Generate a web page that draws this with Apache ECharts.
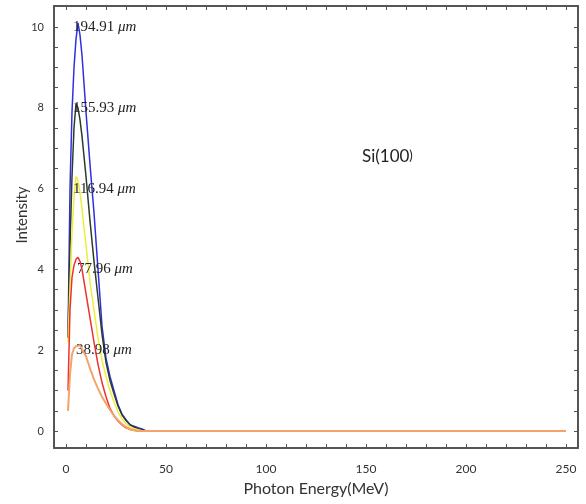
<!DOCTYPE html>
<html>
<head>
<meta charset="utf-8">
<script src="https://cdn.jsdelivr.net/npm/echarts@6/dist/echarts.min.js"></script>
<style>
  html, body { margin: 0; padding: 0; background: #fff; }
  #chart { width: 586px; height: 504px; }
</style>
</head>
<body>
<div id="chart"></div>
<script>
// photon energy (MeV)
const energy = [1, 2, 3, 4, 5, 6, 7, 8, 10, 12, 14, 16, 18, 20, 22, 24, 26, 28, 30, 32, 34, 36, 38, 40, 250]

// crystal thickness for each curve
const thickness = ['194.91', '155.93', '116.94', '77.96', '38.98']

// intensity per thickness
const blue = [2.3, 6.0, 7.9, 9.0, 9.7, 10.1, 9.8, 9.3, 7.9, 6.6, 5.4, 4.0, 2.6, 1.8, 1.35, 1.0, 0.65, 0.42, 0.28, 0.15, 0.12, 0.08, 0.05, 0, 0]
const black = [2.3, 4.6, 6.3, 7.5, 8.1, 8.0, 7.7, 7.3, 6.3, 5.2, 4.2, 3.3, 2.4, 1.7, 1.25, 0.92, 0.62, 0.4, 0.26, 0.16, 0.1, 0.06, 0.03, 0, 0]
const yellow = [2.2, 3.6, 4.9, 5.8, 6.3, 6.2, 5.9, 5.5, 4.6, 3.7, 3.0, 2.3, 1.75, 1.35, 1.0, 0.72, 0.47, 0.3, 0.18, 0.1, 0.06, 0.03, 0.01, 0, 0]
const red = [1.0, 3.0, 3.8, 4.1, 4.25, 4.3, 4.2, 4.0, 3.4, 2.8, 2.2, 1.65, 1.2, 0.85, 0.56, 0.38, 0.25, 0.15, 0.08, 0.04, 0.02, 0, 0, 0, 0]
const orange = [0.5, 1.4, 1.9, 2.05, 2.1, 2.12, 2.12, 2.1, 1.85, 1.55, 1.28, 1.05, 0.85, 0.68, 0.52, 0.38, 0.27, 0.17, 0.1, 0.05, 0.02, 0, 0, 0, 0]

// tick labels
const xTicks = [0, 50, 100, 150, 200, 250]
const yTicks = [0, 2, 4, 6, 8, 10]

const serie = [blue, black, yellow, red, orange]
const colors = ['#3030e0', '#2e3a2e', '#eeee3a', '#ee3030', '#f4a46a']
// where each note sits (energy, intensity)
const noteAt = [[3.5, 10], [3.5, 8], [3.5, 6], [5.5, 4], [5, 2]]

const xMinor = []
for (let v = 0; v <= 250; v += 10) xMinor.push(v)
const yMinor = []
for (let v = 0; v <= 10; v += 0.5) yMinor.push(v)

const chart = echarts.init(document.getElementById('chart'))

const frame = { show: true, lineStyle: { color: '#555', width: 2 } }

const option = {
  animation: false,
  grid: { left: 54, top: 6, right: 8, bottom: 56 },
  xAxis: [
    {
      type: 'value', min: -6, max: 256, position: 'bottom',
      splitLine: { show: false },
      axisLine: { ...frame, onZero: false },
      axisTick: { customValues: xMinor, inside: true, length: 4, lineStyle: { color: '#555' } },
      axisLabel: { customValues: xTicks, margin: 15, fontSize: 12, color: '#333', fontFamily: 'Lato' },
      name: 'Photon Energy(MeV)', nameLocation: 'middle', nameGap: 33,
      nameTextStyle: { fontSize: 16, color: '#333', fontFamily: 'Lato' }
    },
    {
      type: 'value', min: -6, max: 256, position: 'top',
      splitLine: { show: false },
      axisLine: { ...frame, onZero: false },
      axisTick: { customValues: xMinor, inside: true, length: 4, lineStyle: { color: '#555' } },
      axisLabel: { show: false }
    }
  ],
  yAxis: [
    {
      type: 'value', min: -0.42, max: 10.52, position: 'left',
      splitLine: { show: false },
      axisLine: { ...frame, onZero: false },
      axisTick: { customValues: yMinor, inside: true, length: 4, lineStyle: { color: '#555' } },
      axisLabel: { customValues: yTicks, margin: 10, fontSize: 11, color: '#333', fontFamily: 'Lato' }
    },
    {
      type: 'value', min: -0.42, max: 10.52, position: 'right',
      splitLine: { show: false },
      axisLine: { ...frame, onZero: false },
      axisTick: { customValues: yMinor, inside: true, length: 4, lineStyle: { color: '#555' } },
      axisLabel: { show: false }
    }
  ],
  graphic: [
    {
      type: 'text', x: 22, y: 215, rotation: Math.PI / 2,
      style: { text: 'Intensity', font: '15px Lato', fill: '#333', textAlign: 'center', textVerticalAlign: 'middle' }
    }
  ],
  series: serie.map((vals, i) => ({
    type: 'line',
    name: thickness[i],
    data: energy.map((e, j) => [e, vals[j]]),
    symbol: 'none',
    z: 2 + i,
    lineStyle: { color: colors[i], width: i === 4 ? 2 : 1.5 },
    markPoint: {
      symbol: 'circle', symbolSize: 0,
      data: [{ coord: noteAt[i] }],
      label: {
        show: true, position: 'right', distance: 0,
        formatter: () => '{n|' + thickness[i] + ' }{u|μm}',
        rich: {
          n: { fontFamily: 'Liberation Serif', fontSize: 15, color: '#222' },
          u: { fontFamily: 'Liberation Serif', fontSize: 15, fontStyle: 'italic', color: '#222' }
        }
      }
    }
  })).concat([{
    type: 'line', data: [], symbol: 'none',
    markPoint: {
      symbol: 'circle', symbolSize: 0,
      data: [{ coord: [148, 6.8] }],
      label: {
        show: true, position: 'right', distance: 0,
        formatter: '{a|Si(100}{b|)}',
        rich: {
          a: { fontFamily: 'Lato', fontSize: 17, color: '#222' },
          b: { fontFamily: 'Lato', fontSize: 13, color: '#222' }
        }
      }
    }
  }])
}

chart.setOption(option)
</script>
</body>
</html>
